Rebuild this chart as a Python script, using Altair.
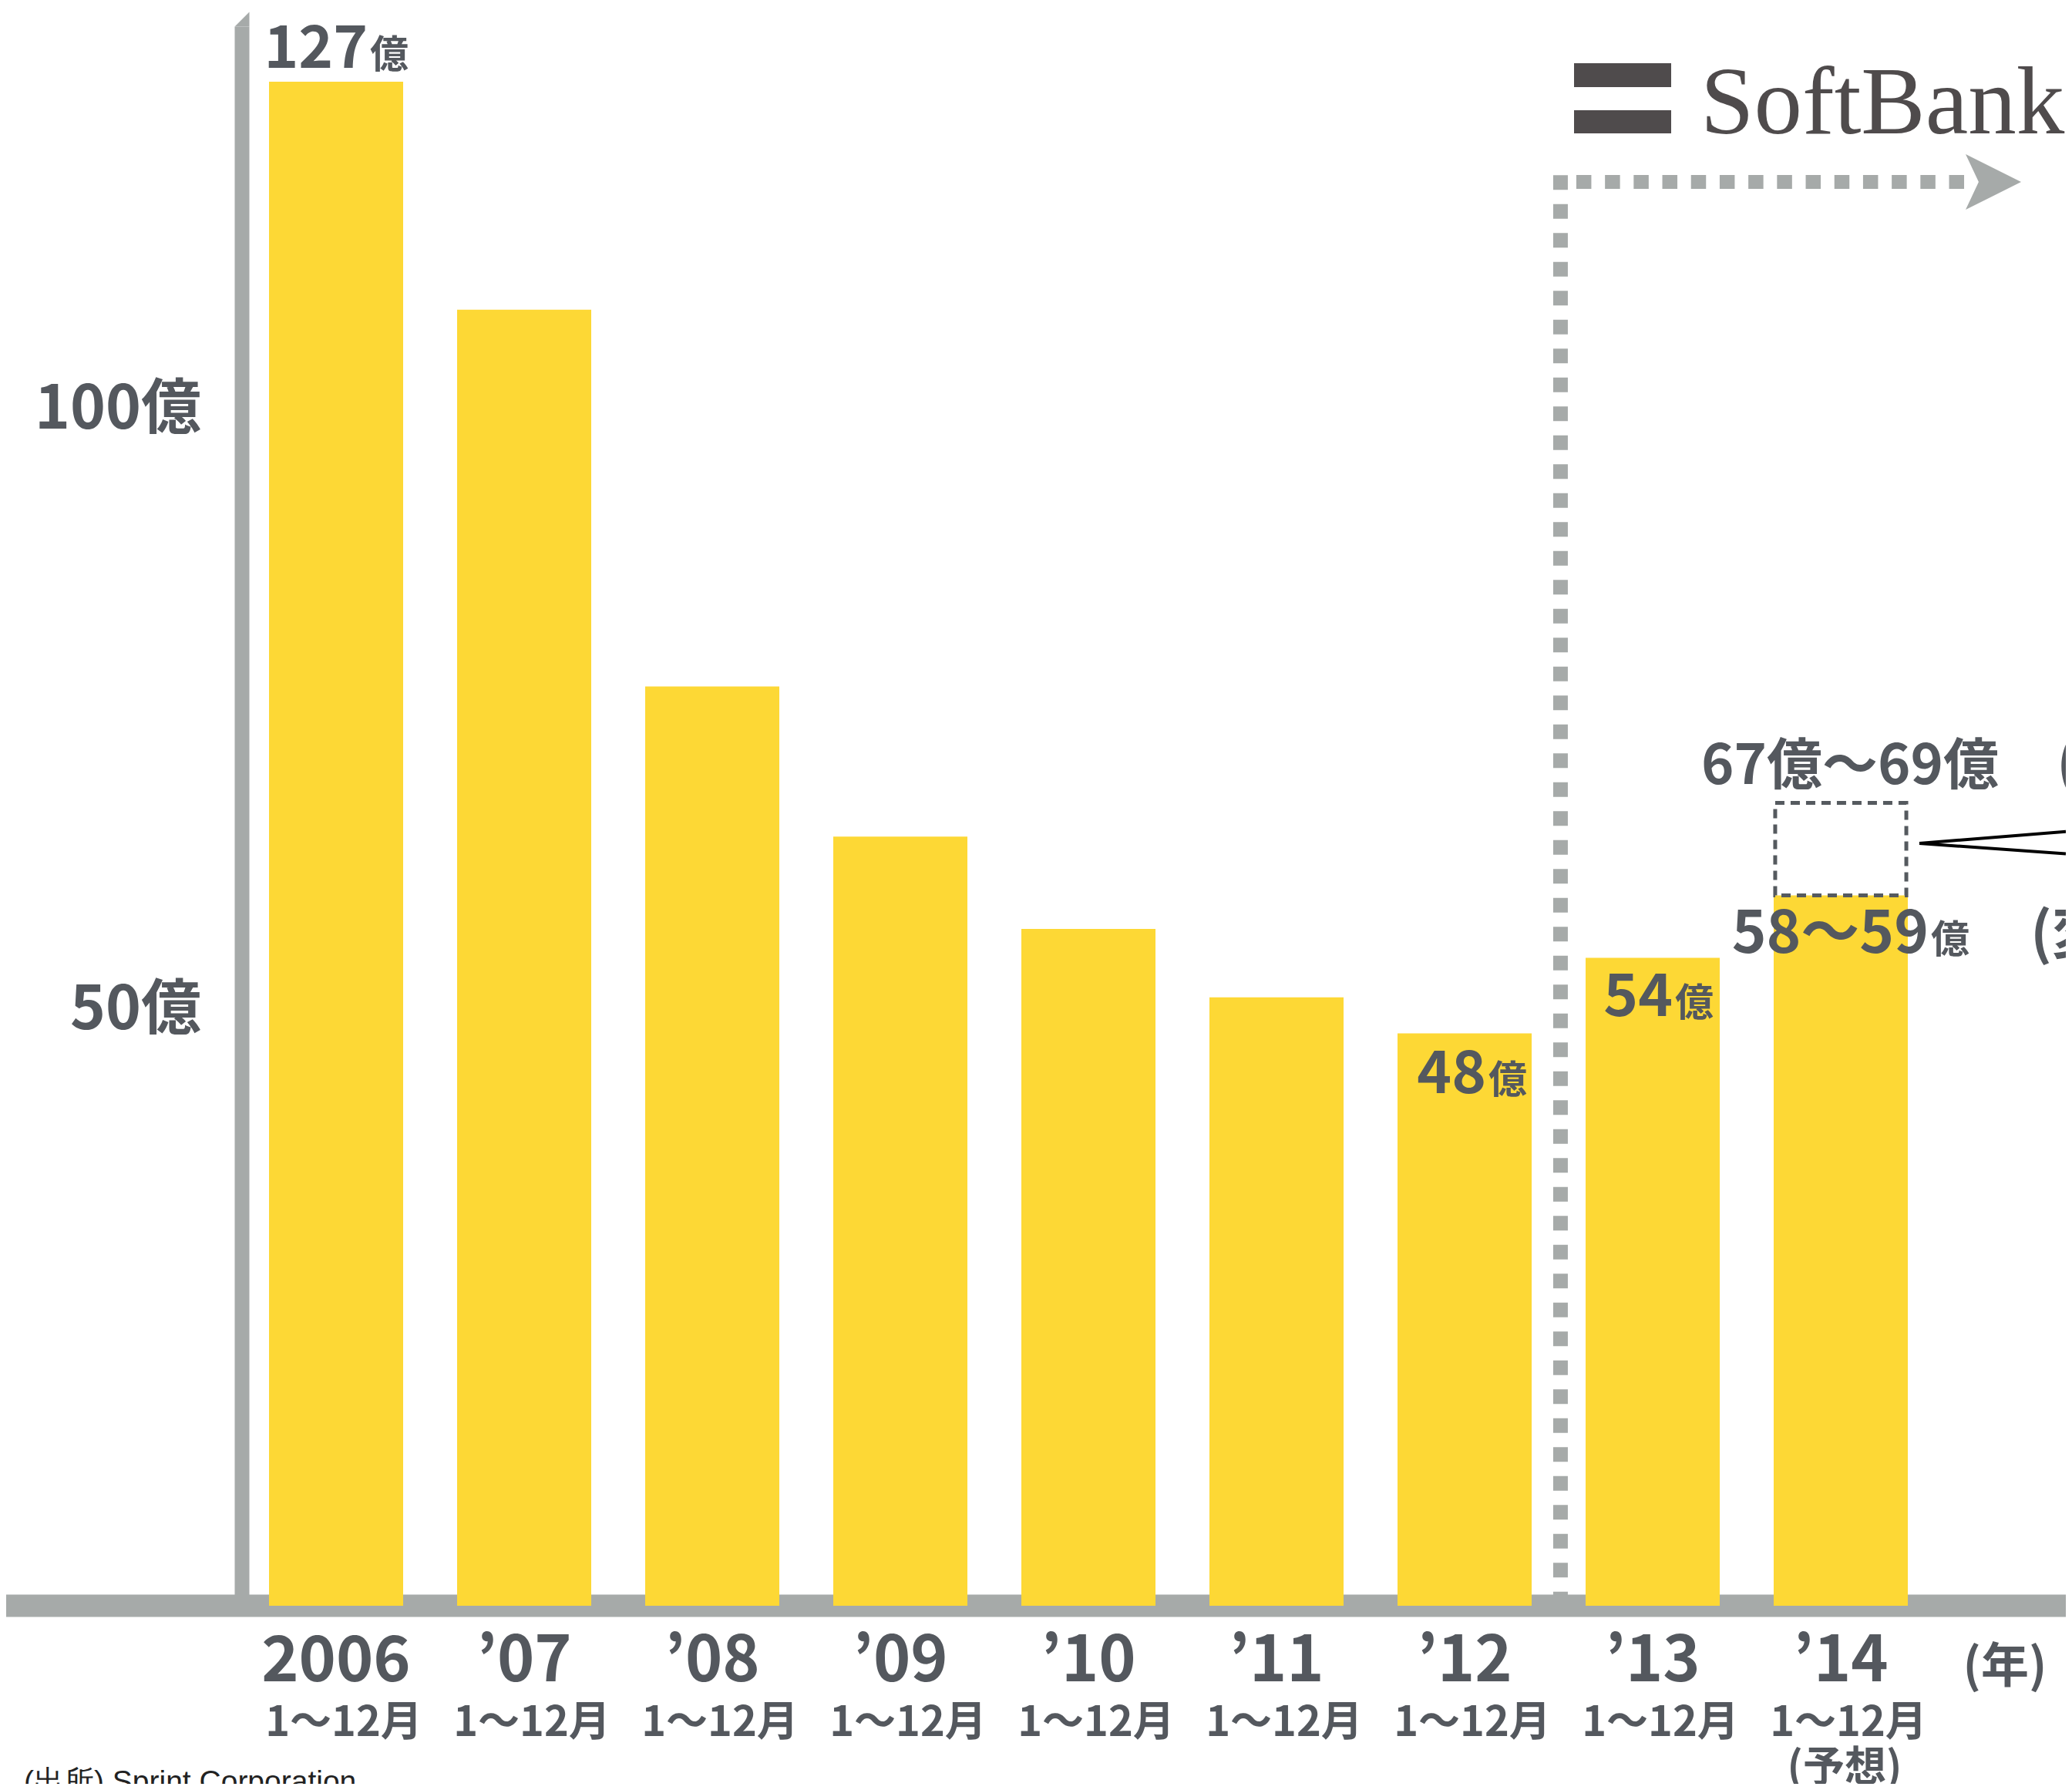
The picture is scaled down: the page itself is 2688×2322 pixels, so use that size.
import altair as alt
import pandas as pd

# ---------------- data ----------------
years = ["2006", "’07", "’08", "’09", "’10", "’11", "’12", "’13", "’14"]
periods = ["1〜12月"] * 9
values = [127, 108, 76.6, 64.1, 56.4, 50.7, 47.7, 54.0, 59.2]
tick_values = [100, 50]
tick_labels = ["100億", "50億"]
label_idx = [0, 6, 7, 8]
label_num = ["127", "48", "54", "58〜59"]
forecast_low = 59.2
forecast_high = 66.9
forecast_high_label = "67億〜69億"
unit = "億"
source = "(出所) Sprint Corporation"

# ---------------- style ----------------
W, H = 2672, 2306
FONT = "Noto Sans CJK JP"
WEIGHT = "bold"
TEXT = "#54585e"
GRAY = "#a6aaa9"
YELLOW = "#fdd835"
LOGO = "#4f4b4c"
BOX = "#555a5f"

X_DOM = [-1.7541, 9.19672]
Y_DOM = [-14.839, 133.30]
xs = alt.Scale(domain=X_DOM, nice=False, zero=False)
ys = alt.Scale(domain=Y_DOM, nice=False, zero=False)


def X(f):
    return alt.X(f, type="quantitative", scale=xs, axis=None)


def Y(f):
    return alt.Y(f, type="quantitative", scale=ys, axis=None)


half = 174 / 244 / 2
bars_df = pd.DataFrame({
    "i": list(range(len(years))),
    "year": years,
    "period": periods,
    "v": values,
})
bars_df["x0"] = bars_df["i"] - half
bars_df["x1"] = bars_df["i"] + half
bars_df["base"] = 0.0

layers = []

# baseline band
band_df = pd.DataFrame({"x": [X_DOM[0]], "x2": [X_DOM[1]], "y": [0.0]})
layers.append(alt.Chart(band_df).mark_rule(color=GRAY, strokeWidth=29).encode(
    x=X("x"), x2="x2", y=Y("y")))

# vertical axis line
ax_df = pd.DataFrame({"x": [-0.5], "y": [0.0], "y2": [131.6]})
layers.append(alt.Chart(ax_df).mark_rule(color=GRAY, strokeWidth=19, strokeCap="butt").encode(
    x=X("x"), y=Y("y"), y2="y2"))
cap_df = pd.DataFrame({"x": [-0.5], "y": [132.2]})
layers.append(alt.Chart(cap_df).mark_point(
    shape="M-1,1 L1,1 L1,-1 Z", size=361, filled=True, color=GRAY, opacity=1, strokeWidth=0
).encode(x=X("x"), y=Y("y")))

# bars
layers.append(alt.Chart(bars_df).mark_rect(color=YELLOW).encode(
    x=X("x0"), x2="x1", y=Y("v"), y2="base"))

# forecast dashed box
box_df = pd.DataFrame({"x0": [8 - half + 0.008], "x1": [8 + half - 0.008],
                       "y": [forecast_low], "y2": [forecast_high]})
layers.append(alt.Chart(box_df).mark_rect(
    filled=False, stroke=BOX, strokeWidth=5, strokeDash=[12, 8]
).encode(x=X("x0"), x2="x1", y=Y("y"), y2="y2"))

# SoftBank boundary: dashed vertical and horizontal with arrow
vd_df = pd.DataFrame({"x": [6.51], "y": [119.22], "y2": [0.9]})
layers.append(alt.Chart(vd_df).mark_rule(
    color=GRAY, strokeWidth=19, strokeDash=[19, 18.5], strokeCap="butt"
).encode(x=X("x"), y=Y("y"), y2="y2"))
hd_df = pd.DataFrame({"x": [6.594], "x2": [8.66], "y": [118.65]})
layers.append(alt.Chart(hd_df).mark_rule(
    color=GRAY, strokeWidth=18, strokeDash=[19.5, 17.7], strokeCap="butt"
).encode(x=X("x"), x2="x2", y=Y("y")))
arrow_df = pd.DataFrame({"x": [8.8115], "y": [118.65]})
layers.append(alt.Chart(arrow_df).mark_point(
    shape="M-1,-1 L1,0 L-1,1 L-0.53,0 Z", size=5184, filled=True, color=GRAY,
    opacity=1, strokeWidth=0
).encode(x=X("x"), y=Y("y")))

# callout wedge lines
call_df = pd.DataFrame({"x": [8.418, 8.418], "x2": [9.1967, 9.1967],
                        "y": [63.53, 63.53], "y2": [64.52, 62.67]})
layers.append(alt.Chart(call_df).mark_rule(color="#000000", strokeWidth=4).encode(
    x=X("x"), x2="x2", y=Y("y"), y2="y2"))

# y tick labels
ticks_df = pd.DataFrame({"v": tick_values, "t": tick_labels})
layers.append(alt.Chart(ticks_df).mark_text(
    font=FONT, fontSize=78, fontWeight=WEIGHT, color=TEXT, align="right",
    baseline="alphabetic", dy=30
).encode(x=alt.value(253), y=Y("v"), text="t"))

# x labels
layers.append(alt.Chart(bars_df).mark_text(
    font=FONT, fontSize=82, fontWeight=WEIGHT, color=TEXT, align="center",
    baseline="alphabetic"
).encode(x=X("i"), y=alt.value(2173), text="year"))
layers.append(alt.Chart(bars_df).mark_text(
    font=FONT, fontSize=54, fontWeight=WEIGHT, color=TEXT, align="center",
    baseline="alphabetic", dx=10
).encode(x=X("i"), y=alt.value(2244), text="period"))
yr_df = pd.DataFrame({"x": [8], "t": ["(年)"]})
layers.append(alt.Chart(yr_df).mark_text(
    font=FONT, fontSize=62, fontWeight=WEIGHT, color=TEXT, align="center",
    baseline="alphabetic", dx=213
).encode(x=X("x"), y=alt.value(2175), text="t"))
fc_df = pd.DataFrame({"x": [8], "t": ["(予想)"]})
layers.append(alt.Chart(fc_df).mark_text(
    font=FONT, fontSize=54, fontWeight=WEIGHT, color=TEXT, align="center",
    baseline="alphabetic", dx=5
).encode(x=X("x"), y=alt.value(2303), text="t"))

# value labels (number + smaller 億)
offsets = {0: (41, -18), 6: (28, 77.5), 7: (26, 75.6), 8: (114, 74.6)}
for idx, num in zip(label_idx, label_num):
    dx, dy = offsets[idx]
    ldf = pd.DataFrame({"x": [idx], "v": [values[idx]], "n": [num], "u": [unit]})
    layers.append(alt.Chart(ldf).mark_text(
        font=FONT, fontSize=76, fontWeight=WEIGHT, color=TEXT, align="right",
        baseline="alphabetic", dx=dx, dy=dy
    ).encode(x=X("x"), y=Y("v"), text="n"))
    layers.append(alt.Chart(ldf).mark_text(
        font=FONT, fontSize=50, fontWeight=WEIGHT, color=TEXT, align="left",
        baseline="alphabetic", dx=dx + 3, dy=dy
    ).encode(x=X("x"), y=Y("v"), text="u"))

# forecast upper label and cut-off side notes
hi_df = pd.DataFrame({"x": [8], "v": [forecast_high], "t": [forecast_high_label]})
layers.append(alt.Chart(hi_df).mark_text(
    font=FONT, fontSize=72, fontWeight=WEIGHT, color=TEXT, align="center",
    baseline="alphabetic", dx=12, dy=-24.6
).encode(x=X("x"), y=Y("v"), text="t"))
side1 = pd.DataFrame({"x": [8], "v": [forecast_high], "t": ["("]})
layers.append(alt.Chart(side1).mark_text(
    font=FONT, fontSize=74, fontWeight=WEIGHT, color=TEXT, align="left",
    baseline="alphabetic", dx=280, dy=-24.6
).encode(x=X("x"), y=Y("v"), text="t"))
side2 = pd.DataFrame({"x": [8], "v": [forecast_low], "t": ["(変動"]})
layers.append(alt.Chart(side2).mark_text(
    font=FONT, fontSize=74, fontWeight=WEIGHT, color=TEXT, align="left",
    baseline="alphabetic", dx=246, dy=75.6
).encode(x=X("x"), y=Y("v"), text="t"))

# SoftBank logo
layers.append(alt.Chart(pd.DataFrame({"k": [0]})).mark_rect(color=LOGO).encode(
    x=alt.value(2034), x2=alt.value(2160), y=alt.value(74), y2=alt.value(105)))
layers.append(alt.Chart(pd.DataFrame({"k": [0]})).mark_rect(color=LOGO).encode(
    x=alt.value(2034), x2=alt.value(2160), y=alt.value(135), y2=alt.value(165)))
layers.append(alt.Chart(pd.DataFrame({"t": ["SoftBank"]})).mark_text(
    font="Liberation Serif", fontSize=125, color=LOGO, align="left", baseline="alphabetic"
).encode(x=alt.value(2198), y=alt.value(165), text="t"))

# source
layers.append(alt.Chart(pd.DataFrame({"t": [source]})).mark_text(
    font="Liberation Sans", fontSize=39, color="#222222", align="left", baseline="alphabetic"
).encode(x=alt.value(23), y=alt.value(2316), text="t"))

chart = alt.layer(*layers).properties(
    width=W, height=H,
    autosize=alt.AutoSizeParams(type="none"),
    padding=0,
    background="#ffffff",
).configure_view(stroke=None)

chart.save("out.html", embed_options={"renderer": "svg", "actions": False})
